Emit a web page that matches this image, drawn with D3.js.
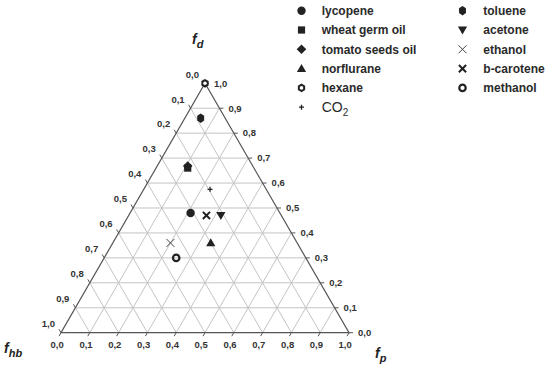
<!DOCTYPE html>
<html>
<head>
<meta charset="utf-8">
<script src="https://cdn.jsdelivr.net/npm/d3@7"></script>
<style>
  body { margin: 0; background: #fff; }
  svg { font-family: "Liberation Sans", Arial, sans-serif; }
  .grid { stroke: #c4c4c4; stroke-width: 1; fill: none; }
  .edge { stroke: #555; stroke-width: 1.2; fill: none; }
  .tick { stroke: #555; stroke-width: 1; }
  .tickLabel { font-size: 9.5px; font-weight: bold; fill: #333; }
  .legendText { font-size: 12px; font-weight: bold; fill: #2a2a2a; }
  .axisTitle { font-size: 14px; font-weight: bold; font-style: italic; fill: #222; }
</style>
</head>
<body>
<script>
// solvent data (fractions)
var names = ["lycopene", "wheat germ oil", "tomato seeds oil", "norflurane", "hexane", "CO2",
             "toluene", "acetone", "ethanol", "b-carotene", "methanol"];
var fdValues  = [0.48, 0.66, 0.668, 0.36, 1.00, 0.575, 0.86, 0.47, 0.36, 0.47, 0.30];
var fpValues  = [0.21, 0.11, 0.106, 0.34, 0.00, 0.23, 0.055, 0.32, 0.20, 0.27, 0.25];
var fhbValues = [0.31, 0.23, 0.226, 0.30, 0.00, 0.195, 0.085, 0.21, 0.44, 0.26, 0.45];
var symbols = ["circle", "square", "diamond", "triangle", "hexring", "plus",
               "hexagon", "down", "thinx", "boldx", "ring"];
var tickValues = d3.range(0, 11).map(function (i) { return i / 10; });
var tickFormat = function (v) { return v.toFixed(1).replace(".", ","); };

var width = 550, height = 371;
var leftX = 61, rightX = 349, baseY = 332.7;
var side = rightX - leftX;
var apexY = baseY - side * Math.sqrt(3) / 2;

var svg = d3.select("body").append("svg")
  .attr("width", width)
  .attr("height", height);

var xScale = d3.scaleLinear().domain([0, 1]).range([leftX, rightX]);
var yScale = d3.scaleLinear().domain([0, 1]).range([baseY, apexY]);

// ternary -> pixel
function px(fp, fd) { return xScale(fp + fd / 2); }
function py(fd) { return yScale(fd); }

// grid lines
var inner = tickValues.slice(1, 10);
var grid = svg.append("g");
inner.forEach(function (k) {
  // constant fd
  grid.append("line").attr("class", "grid")
    .attr("x1", px(0, k)).attr("y1", py(k))
    .attr("x2", px(1 - k, k)).attr("y2", py(k));
  // constant fp
  grid.append("line").attr("class", "grid")
    .attr("x1", px(k, 0)).attr("y1", py(0))
    .attr("x2", px(k, 1 - k)).attr("y2", py(1 - k));
  // constant fhb
  grid.append("line").attr("class", "grid")
    .attr("x1", px(1 - k, 0)).attr("y1", py(0))
    .attr("x2", px(0, 1 - k)).attr("y2", py(1 - k));
});

// triangle outline
svg.append("path").attr("class", "edge")
  .attr("d", "M" + px(0, 0) + "," + py(0) + "L" + px(1, 0) + "," + py(0) +
             "L" + px(0, 1) + "," + py(1) + "Z");

var ticks = svg.append("g");
var tl = 4;
tickValues.forEach(function (k) {
  // left edge: fhb, 0 at top -> 1 at bottom
  var lx = px(0, 1 - k), ly = py(1 - k);
  ticks.append("line").attr("class", "tick")
    .attr("x1", lx).attr("y1", ly)
    .attr("x2", lx - tl * 0.5).attr("y2", ly - tl * 0.866);
  ticks.append("text").attr("class", "tickLabel")
    .attr("x", lx - 6).attr("y", ly - 9 + 3.3)
    .attr("text-anchor", "end")
    .text(tickFormat(k));

  // right edge: fd, 1 at top -> 0 at bottom
  var rx = px(1 - k, k), ry = py(k);
  ticks.append("line").attr("class", "tick")
    .attr("x1", rx).attr("y1", ry)
    .attr("x2", rx + tl).attr("y2", ry);
  ticks.append("text").attr("class", "tickLabel")
    .attr("x", rx + 9).attr("y", ry + 3.3)
    .text(tickFormat(k));

  // bottom edge: fp
  var bx = px(k, 0), by = py(0);
  ticks.append("line").attr("class", "tick")
    .attr("x1", bx).attr("y1", by)
    .attr("x2", bx - tl * 0.5).attr("y2", by + tl * 0.866);
  ticks.append("text").attr("class", "tickLabel")
    .attr("x", bx - 3.8).attr("y", by + 15)
    .attr("text-anchor", "middle")
    .text(tickFormat(k));
});

// axis titles
function axisTitle(x, y, sub) {
  var t = svg.append("text").attr("class", "axisTitle").attr("x", x).attr("y", y);
  t.append("tspan").text("f");
  t.append("tspan").attr("dy", 4).style("font-size", "11px").text(sub);
}
axisTitle(192, 44, "d");
axisTitle(4, 353, "hb");
axisTitle(375, 358, "p");

// marker drawing
function hexPath(r, rx) {
  var pts = d3.range(6).map(function (i) {
    var a = Math.PI / 6 + i * Math.PI / 3;
    return [Math.cos(a) * rx, Math.sin(a) * r];
  });
  return "M" + pts.join("L") + "Z";
}

function drawMarker(g, type) {
  switch (type) {
    case "circle":
      g.append("circle").attr("r", 4.2).attr("fill", "#222");
      break;
    case "square":
      g.append("rect").attr("x", -3.6).attr("y", -3.6).attr("width", 7.2).attr("height", 7.2)
        .attr("fill", "#222");
      break;
    case "diamond":
      g.append("path").attr("d", "M0,-4.8L4.8,0L0,4.8L-4.8,0Z").attr("fill", "#222");
      break;
    case "triangle":
      g.append("path").attr("d", "M0,-4.6L4.6,3.4L-4.6,3.4Z").attr("fill", "#222");
      break;
    case "down":
      g.append("path").attr("d", "M0,4.6L4.6,-3.4L-4.6,-3.4Z").attr("fill", "#222");
      break;
    case "hexagon":
      g.append("path").attr("d", hexPath(4.8, 4.0)).attr("fill", "#222");
      break;
    case "hexring":
      g.append("path").attr("d", hexPath(4.4, 4.2)).attr("fill", "#222");
      g.append("circle").attr("r", 1.8).attr("fill", "#fff");
      break;
    case "ring":
      g.append("circle").attr("r", 3.2).attr("fill", "none")
        .attr("stroke", "#222").attr("stroke-width", 2.2);
      break;
    case "plus":
      g.append("path").attr("d", "M-2.5,0H2.5M0,-2.5V2.5")
        .attr("stroke", "#222").attr("stroke-width", 1.3);
      break;
    case "thinx":
      g.append("path").attr("d", "M-4,-4L4,4M-4,4L4,-4")
        .attr("stroke", "#444").attr("stroke-width", 1);
      break;
    case "boldx":
      g.append("path").attr("d", "M-3.6,-3.6L3.6,3.6M-3.6,3.6L3.6,-3.6")
        .attr("stroke", "#222").attr("stroke-width", 2);
      break;
  }
}

// data points
var points = svg.append("g");
names.forEach(function (n, i) {
  var g = points.append("g")
    .attr("transform", "translate(" + px(fpValues[i], fdValues[i]) + "," + py(fdValues[i]) + ")");
  drawMarker(g, symbols[i]);
});

// legend
var legendX = [301.5, 462.5];
var legendTextX = [321.7, 483.3];
var legendY0 = 10.7, legendStep = 19.3;
names.forEach(function (n, i) {
  var col = i < 6 ? 0 : 1;
  var row = col === 0 ? i : i - 6;
  var y = legendY0 + row * legendStep;
  var g = svg.append("g").attr("transform", "translate(" + legendX[col] + "," + y + ")");
  drawMarker(g, symbols[i]);
  var t = svg.append("text").attr("class", "legendText")
    .attr("x", legendTextX[col]).attr("y", y + 4.3);
  if (n === "CO2") {
    t.style("font-weight", "normal").style("font-size", "14px");
    t.append("tspan").text("CO");
    t.append("tspan").attr("dy", 4).style("font-size", "10px").text("2");
  } else {
    t.text(n);
  }
});
</script>
</body>
</html>
